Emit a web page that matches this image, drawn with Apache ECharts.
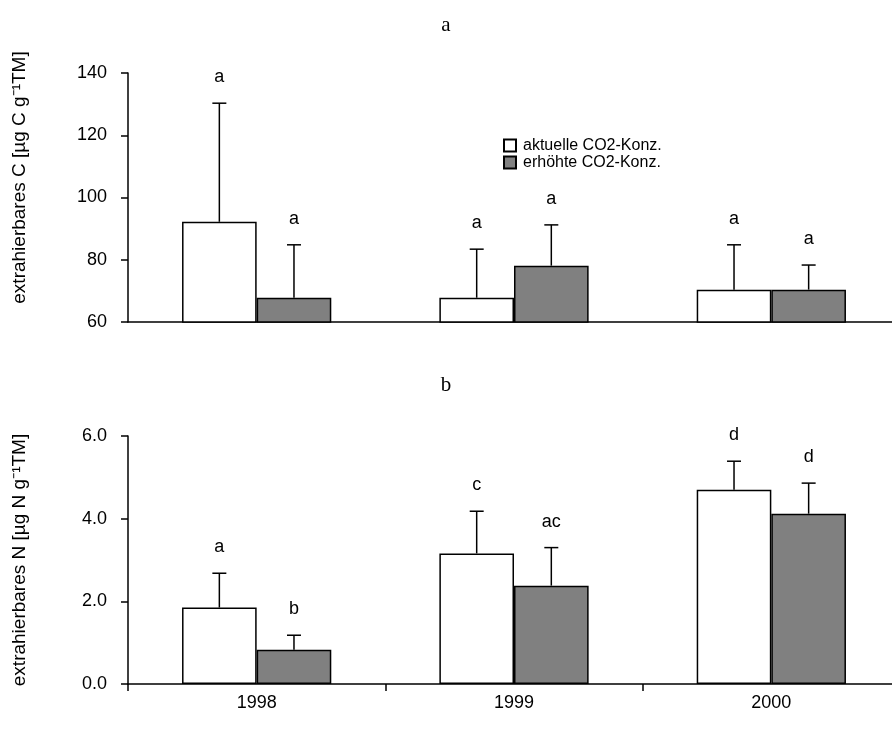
<!DOCTYPE html>
<html>
<head>
<meta charset="utf-8">
<title>extrahierbares C und N</title>
<script src="https://cdn.jsdelivr.net/npm/echarts@6/dist/echarts.min.js"></script>
<style>
    html, body { margin: 0; padding: 0; background: #fff; }
    #chart { width: 892px; height: 738px; }
</style>
</head>
<body>
<div id="chart"></div>
<script>
const years = ['1998', '1999', '2000'];

// Panel a: extrahierbares C
const cAktuell = [92.2, 67.8, 70.4];
const cAktuellErr = [38.1, 15.6, 14.4];
const cAktuellSig = ['a', 'a', 'a'];
const cErhoeht = [67.8, 78.1, 70.4];
const cErhoehtErr = [17.0, 13.1, 7.9];
const cErhoehtSig = ['a', 'a', 'a'];

// Panel b: extrahierbares N
const nAktuell = [1.85, 3.16, 4.70];
const nAktuellErr = [0.83, 1.02, 0.69];
const nAktuellSig = ['a', 'c', 'd'];
const nErhoeht = [0.83, 2.38, 4.12];
const nErhoehtErr = [0.35, 0.92, 0.74];
const nErhoehtSig = ['b', 'ac', 'd'];

const FONT = '"Liberation Sans", Arial, sans-serif';
const BAR_SHARE = 0.29;

function errorSeries(gridIdx, values, errs, letters, side) {
    return {
        type: 'custom',
        xAxisIndex: gridIdx,
        yAxisIndex: gridIdx,
        clip: false,
        z: 5,
        silent: true,
        data: values.map((v, i) => [i, v, errs[i]]),
        renderItem: function(params, api) {
            const idx = api.value(0);
            const val = api.value(1);
            const err = api.value(2);
            const base = api.coord([idx, val]);
            const top = api.coord([idx, val + err]);
            const barW = api.size([1, 0])[0] * BAR_SHARE;
            const x = base[0] + side * barW / 2;
            const style = { stroke: '#000', lineWidth: 1.5 };
            return {
                type: 'group',
                children: [
                    { type: 'line', shape: { x1: x, y1: base[1], x2: x, y2: top[1] }, style: style },
                    { type: 'line', shape: { x1: x - 7, y1: top[1], x2: x + 7, y2: top[1] }, style: style },
                    {
                        type: 'text',
                        style: {
                            x: x, y: top[1] - 17,
                            text: letters[params.dataIndex],
                            align: 'center', verticalAlign: 'bottom',
                            font: '18px ' + FONT, fill: '#000'
                        }
                    }
                ]
            };
        }
    };
}

function barSeries(name, gridIdx, values, color) {
    return {
        name: name,
        type: 'bar',
        xAxisIndex: gridIdx,
        yAxisIndex: gridIdx,
        data: values,
        barWidth: (BAR_SHARE * 100) + '%',
        barGap: '0%',
        itemStyle: { color: color, borderColor: '#000', borderWidth: 1.5 },
        silent: true
    };
}

const axisLine = { show: true, lineStyle: { color: '#000', width: 1.5 } };
const axisTick = { show: true, length: 7, lineStyle: { color: '#000', width: 1.5 } };
const tickLabel = { color: '#000', fontSize: 18, fontFamily: FONT, margin: 21 };
const nameStyle = { color: '#000', fontSize: 19, fontFamily: FONT };

const chart = echarts.init(document.getElementById('chart'), null, { renderer: 'canvas' });

const option = {
    animation: false,
    backgroundColor: '#fff',
    title: [
        { text: 'a', left: 'center', top: 10, textStyle: { fontFamily: '"Liberation Serif", serif', fontSize: 21, fontWeight: 'normal', color: '#000' } },
        { text: 'b', left: 'center', top: 370, textStyle: { fontFamily: '"Liberation Serif", serif', fontSize: 21, fontWeight: 'normal', color: '#000' } }
    ],
    legend: {
        orient: 'vertical',
        left: 503,
        top: 137,
        padding: 0,
        icon: 'rect',
        itemWidth: 12,
        itemHeight: 12,
        itemGap: 0,
        data: ['aktuelle CO2-Konz.', 'erhöhte CO2-Konz.'],
        textStyle: { fontSize: 16, fontFamily: FONT, color: '#000', lineHeight: 17, padding: [0, 0, 0, 2] }
    },
    grid: [
        { left: 128, width: 772, top: 73, height: 249, outerBoundsMode: 'none' },
        { left: 128, width: 772, top: 436, height: 248, outerBoundsMode: 'none' }
    ],
    xAxis: [
        {
            type: 'category', gridIndex: 0, data: years,
            axisLine: axisLine, axisTick: { show: false }, axisLabel: { show: false }
        },
        {
            type: 'category', gridIndex: 1, data: years,
            axisLine: axisLine,
            axisTick: axisTick,
            axisLabel: { color: '#000', fontSize: 18, fontFamily: FONT, margin: 10 }
        }
    ],
    yAxis: [
        {
            type: 'value', gridIndex: 0, min: 60, max: 140, interval: 20,
            name: 'extrahierbares C [µg C g⁻¹TM]', nameLocation: 'middle', nameGap: 99,
            nameTextStyle: Object.assign({}, nameStyle, { padding: [0, 0, 0, 40] }),
            axisLine: axisLine,
            axisTick: axisTick,
            axisLabel: tickLabel,
            splitLine: { show: false }
        },
        {
            type: 'value', gridIndex: 1, min: 0, max: 6, interval: 2,
            name: 'extrahierbares N [µg N g⁻¹TM]', nameLocation: 'middle', nameGap: 99,
            nameTextStyle: nameStyle,
            axisLine: axisLine,
            axisTick: axisTick,
            axisLabel: Object.assign({}, tickLabel, { formatter: v => v.toFixed(1) }),
            splitLine: { show: false }
        }
    ],
    series: [
        barSeries('aktuelle CO2-Konz.', 0, cAktuell, '#ffffff'),
        barSeries('erhöhte CO2-Konz.', 0, cErhoeht, '#808080'),
        barSeries('aktuelle CO2-Konz.', 1, nAktuell, '#ffffff'),
        barSeries('erhöhte CO2-Konz.', 1, nErhoeht, '#808080'),
        errorSeries(0, cAktuell, cAktuellErr, cAktuellSig, -1),
        errorSeries(0, cErhoeht, cErhoehtErr, cErhoehtSig, 1),
        errorSeries(1, nAktuell, nAktuellErr, nAktuellSig, -1),
        errorSeries(1, nErhoeht, nErhoehtErr, nErhoehtSig, 1)
    ]
};

chart.setOption(option);
</script>
</body>
</html>
